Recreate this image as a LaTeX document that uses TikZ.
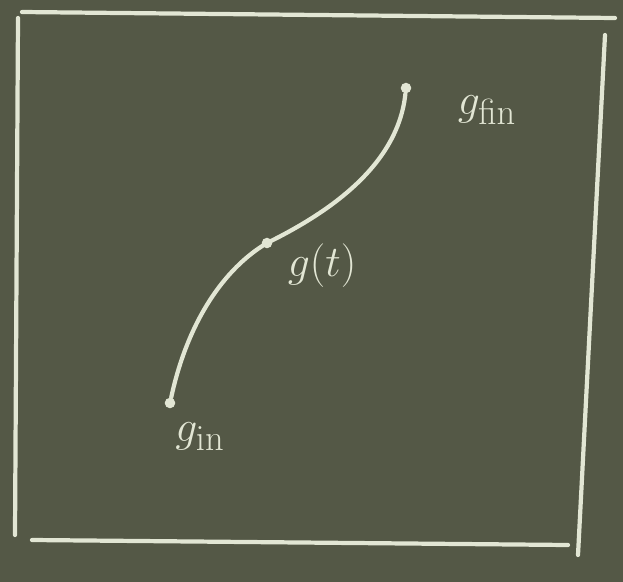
\documentclass[tikz,border=0pt]{standalone}
\usepackage{amsmath}
\usepackage{xcolor}
\usepackage{tikz}

\definecolor{board}{RGB}{84,88,70}
\definecolor{chalk}{RGB}{226,230,212}

\tikzset{
  chalkline/.style={draw=chalk, line width=2.4pt, line cap=round},
  chalkdot/.style={circle, fill=chalk, inner sep=0pt, minimum size=6pt},
  chalklabel/.style={text=chalk, font=\Huge}
}

\begin{document}
\begin{tikzpicture}[x=0.02cm, y=-0.02cm]
  % board
  \fill[board] (0,0) rectangle (623,582);
  \useasboundingbox (0,0) rectangle (623,582);
  % frame
  \draw[chalkline] (18,18) -- (15,535);
  \draw[chalkline] (22,12) -- (615,18);
  \draw[chalkline] (605,35) -- (578,555);
  \draw[chalkline] (32,540) -- (568,545);
  % end points of the path
  \node[chalkdot] (start) at (170,403) {};
  \coordinate (mid) at (267,243);
  \node[chalkdot] (end) at (406,88) {};
  \draw[chalkline] (start) .. controls (188,320) and (225,268) .. (mid)
    .. controls (330,212) and (398,165) .. (end);
  \node[chalkdot] (gt) at (mid) {};
  % labels
  \node[chalklabel] (gfin) at (487,110) {$g_{\mathrm{fin}}$};
  \node[chalklabel] (gtlab) at (322,266) {$g(t)$};
  \node[chalklabel] (gin) at (200,437) {$g_{\mathrm{in}}$};
\end{tikzpicture}
\end{document}
